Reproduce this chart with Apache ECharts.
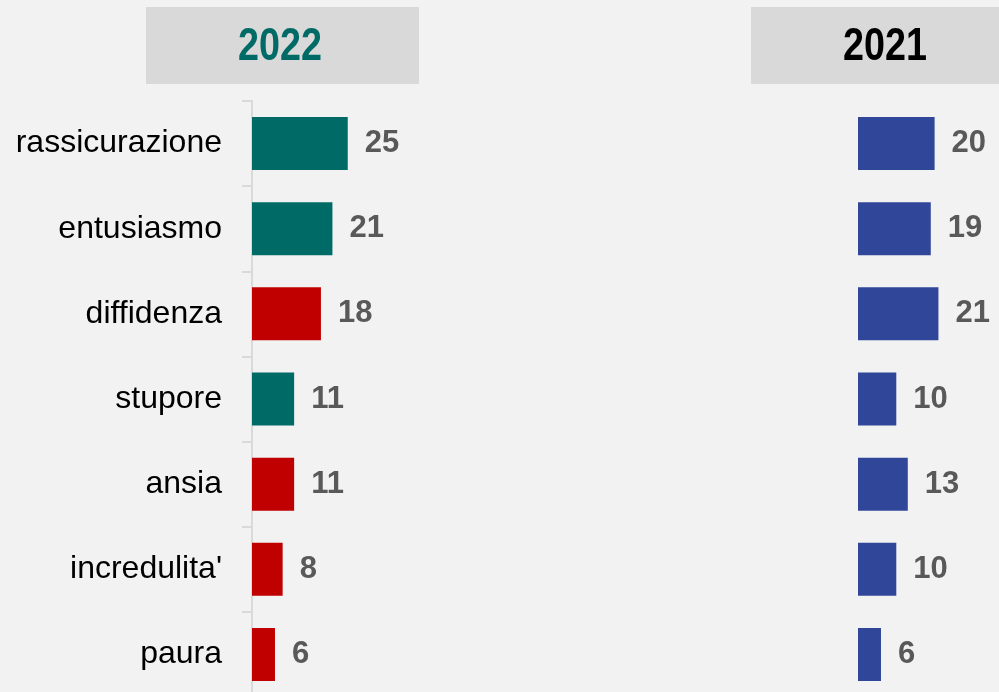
<!DOCTYPE html>
<html>
<head>
<meta charset="utf-8">
<style>
  html, body { margin: 0; padding: 0; background: #f2f2f2; }
  #chart { width: 999px; height: 692px; }
</style>
<script src="https://cdn.jsdelivr.net/npm/echarts@6/dist/echarts.min.js"></script>
</head>
<body>
<div id="chart"></div>
<script>
// categorie (dall'alto in basso)
var categories = ['rassicurazione', 'entusiasmo', 'diffidenza', 'stupore', 'ansia', "incredulita'", 'paura'];
// emozione positiva (true) o negativa (false) per il 2022
var positive = [true, true, false, true, false, false, false];
var values2022 = [25, 21, 18, 11, 11, 8, 6];
var values2021 = [20, 19, 21, 10, 13, 10, 6];
var years = ['2022', '2021'];

var TEAL = '#006b66', RED = '#c00000', BLUE = '#2f4699';
var fontFam = '"Liberation Sans", Arial, sans-serif';

var mychart = echarts.init(document.getElementById('chart'));

var valueLabel = {
    show: true,
    position: 'right',
    distance: 17,
    color: '#595959',
    fontFamily: fontFam,
    fontWeight: 'bold',
    fontSize: 31
};

// titoli "stretti": testo bold schiacciato in orizzontale
function yearTitle(text, x, color) {
    return {
        type: 'text', x: x, y: 47, scaleX: 0.82,
        style: { text: text, fill: color, font: 'bold 46px ' + fontFam, align: 'center', verticalAlign: 'middle' }
    };
}

var option = {
    backgroundColor: '#f2f2f2',
    animation: false,
    graphic: [
        { type: 'rect', shape: { x: 146, y: 7, width: 273, height: 77 }, style: { fill: '#d9d9d9' } },
        { type: 'rect', shape: { x: 751, y: 7, width: 270, height: 77 }, style: { fill: '#d9d9d9' } },
        yearTitle(years[0], 280, TEAL),
        yearTitle(years[1], 885, '#000000')
    ],
    grid: [
        { left: 252, top: 101, width: 383, height: 596, outerBoundsMode: 'none' },
        { left: 858, top: 101, width: 383, height: 596, outerBoundsMode: 'none' }
    ],
    xAxis: [
        { gridIndex: 0, type: 'value', min: 0, max: 100, show: false },
        { gridIndex: 1, type: 'value', min: 0, max: 100, show: false }
    ],
    yAxis: [
        {
            gridIndex: 0,
            type: 'category',
            inverse: true,
            data: categories,
            axisLine: { show: true, lineStyle: { color: '#d9d9d9', width: 2 } },
            axisTick: { show: true, length: 10, lineStyle: { color: '#d9d9d9', width: 2 } },
            axisLabel: { margin: 30, color: '#000000', fontFamily: fontFam, fontSize: 32 }
        },
        {
            gridIndex: 1,
            type: 'category',
            inverse: true,
            data: categories,
            show: false
        }
    ],
    series: [
        {
            name: years[0],
            type: 'bar',
            xAxisIndex: 0,
            yAxisIndex: 0,
            barWidth: 53,
            data: values2022.map(function (v, i) {
                return { value: v, itemStyle: { color: positive[i] ? TEAL : RED } };
            }),
            label: valueLabel
        },
        {
            name: years[1],
            type: 'bar',
            xAxisIndex: 1,
            yAxisIndex: 1,
            barWidth: 53,
            itemStyle: { color: BLUE },
            data: values2021,
            label: valueLabel
        }
    ]
};
mychart.setOption(option);
</script>
</body>
</html>
